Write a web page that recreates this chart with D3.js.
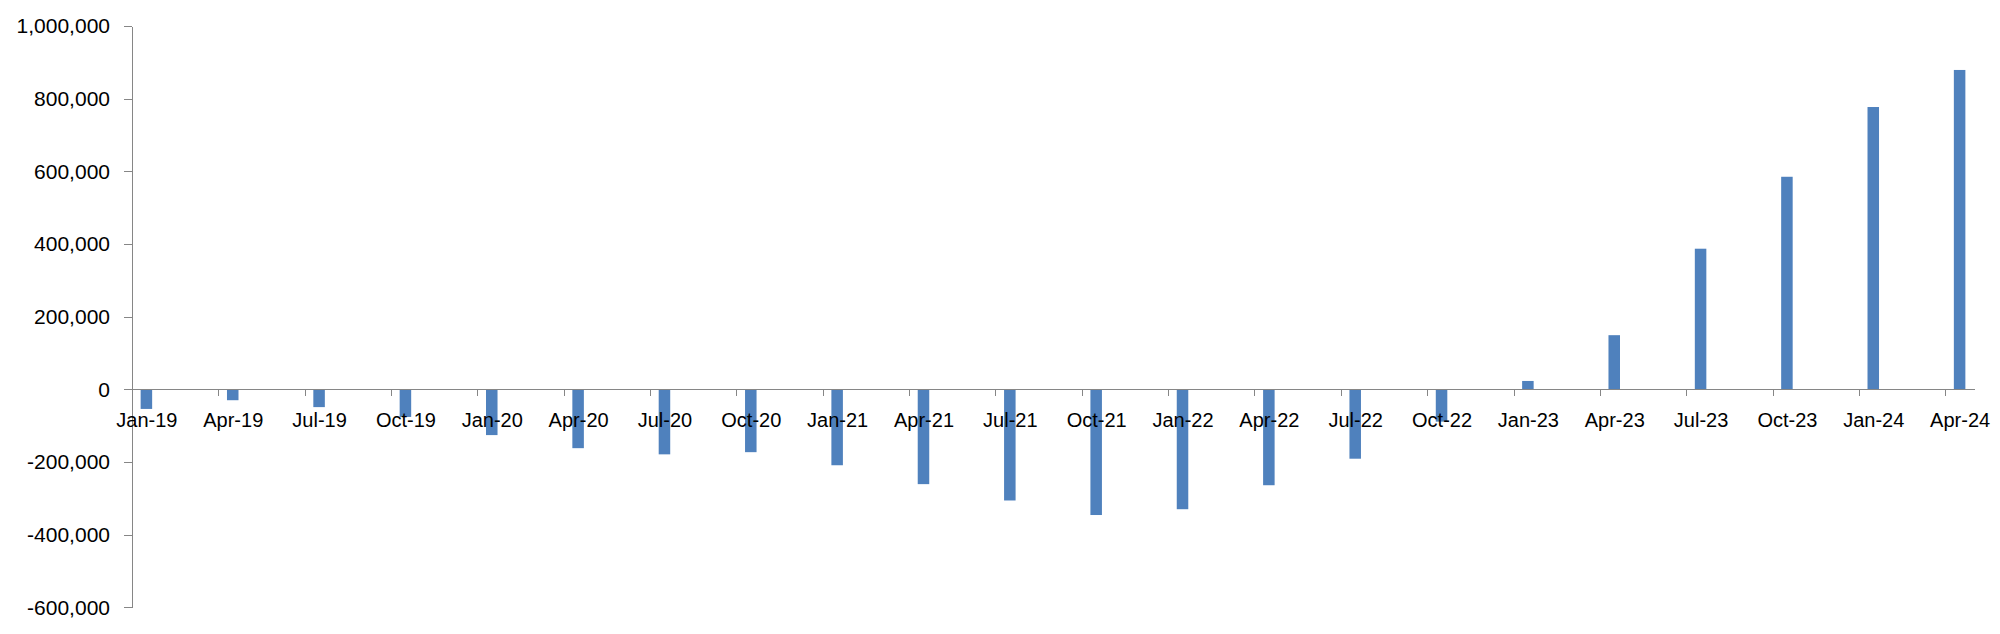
<!DOCTYPE html>
<html>
<head>
<meta charset="utf-8">
<script src="https://cdn.jsdelivr.net/npm/d3@7"></script>
<style>
  html, body { margin: 0; padding: 0; background: #fff; }
  svg { display: block; }
  .axis text { font-family: "Liberation Sans", Arial, sans-serif; font-size: 20px; fill: #000; }
  .yaxis text { font-size: 21px; }
  .axis path, .axis line { stroke: #868686; stroke-width: 1; shape-rendering: crispEdges; }
</style>
</head>
<body>
<svg id="chart" width="2000" height="634"></svg>
<script>
// Quarterly categories (date axis with monthly base unit)
const categories = ["Jan-19","Apr-19","Jul-19","Oct-19","Jan-20","Apr-20","Jul-20","Oct-20",
  "Jan-21","Apr-21","Jul-21","Oct-21","Jan-22","Apr-22","Jul-22","Oct-22",
  "Jan-23","Apr-23","Jul-23","Oct-23","Jan-24","Apr-24"];
const values = [-54000, -30000, -49000, -76000, -126000, -162000, -179000, -173000,
  -209000, -261000, -306000, -346000, -330000, -264000, -191000, -89000,
  23000, 149000, 387000, 585000, 777000, 879000];
const yTicks = [-600000, -400000, -200000, 0, 200000, 400000, 600000, 800000, 1000000];
const monthsPerCategory = 3;
const totalMonths = 64; // Jan-19 .. Apr-24

const svg = d3.select("#chart");
const plotLeft = 132, plotRight = 1974, plotTop = 26, plotBottom = 607.3;

const x = d3.scaleLinear().domain([0, totalMonths]).range([plotLeft, plotRight]);
const y = d3.scaleLinear().domain([-600000, 1000000]).range([plotBottom, plotTop]);
const barW = (x(1) - x(0)) * 0.4;
const fmt = d3.formatLocale({decimal: ".", thousands: ",", grouping: [3], currency: ["", ""], minus: "-"}).format(",");

// bars
svg.append("g").selectAll("rect").data(values).join("rect")
  .attr("x", (d, i) => x(i * monthsPerCategory + 0.5) - barW / 2)
  .attr("width", barW)
  .attr("y", d => y(Math.max(0, d)))
  .attr("height", d => Math.abs(y(d) - y(0)))
  .attr("fill", "#4F81BD");

// y axis
svg.append("g").attr("class", "axis yaxis")
  .attr("transform", `translate(${plotLeft},0)`)
  .call(d3.axisLeft(y).tickValues(yTicks).tickFormat(fmt).tickSize(8).tickPadding(14).tickSizeOuter(0));

// x axis tick marks at quarter boundaries
const boundaries = categories.map((c, i) => i * monthsPerCategory);
svg.append("g").attr("class", "axis")
  .attr("transform", `translate(0,${y(0)})`)
  .call(d3.axisBottom(x).tickValues(boundaries).tickFormat("").tickSize(7).tickSizeOuter(0));

// x axis labels centred on each quarter's first month
const labelPos = categories.map((c, i) => i * monthsPerCategory + 0.5);
const xl = svg.append("g").attr("class", "axis")
  .attr("transform", `translate(0,${y(0)})`)
  .call(d3.axisBottom(x).tickValues(labelPos).tickFormat((d, i) => categories[i]).tickSize(0).tickPadding(23.5));
xl.select(".domain").remove();
</script>
</body>
</html>
